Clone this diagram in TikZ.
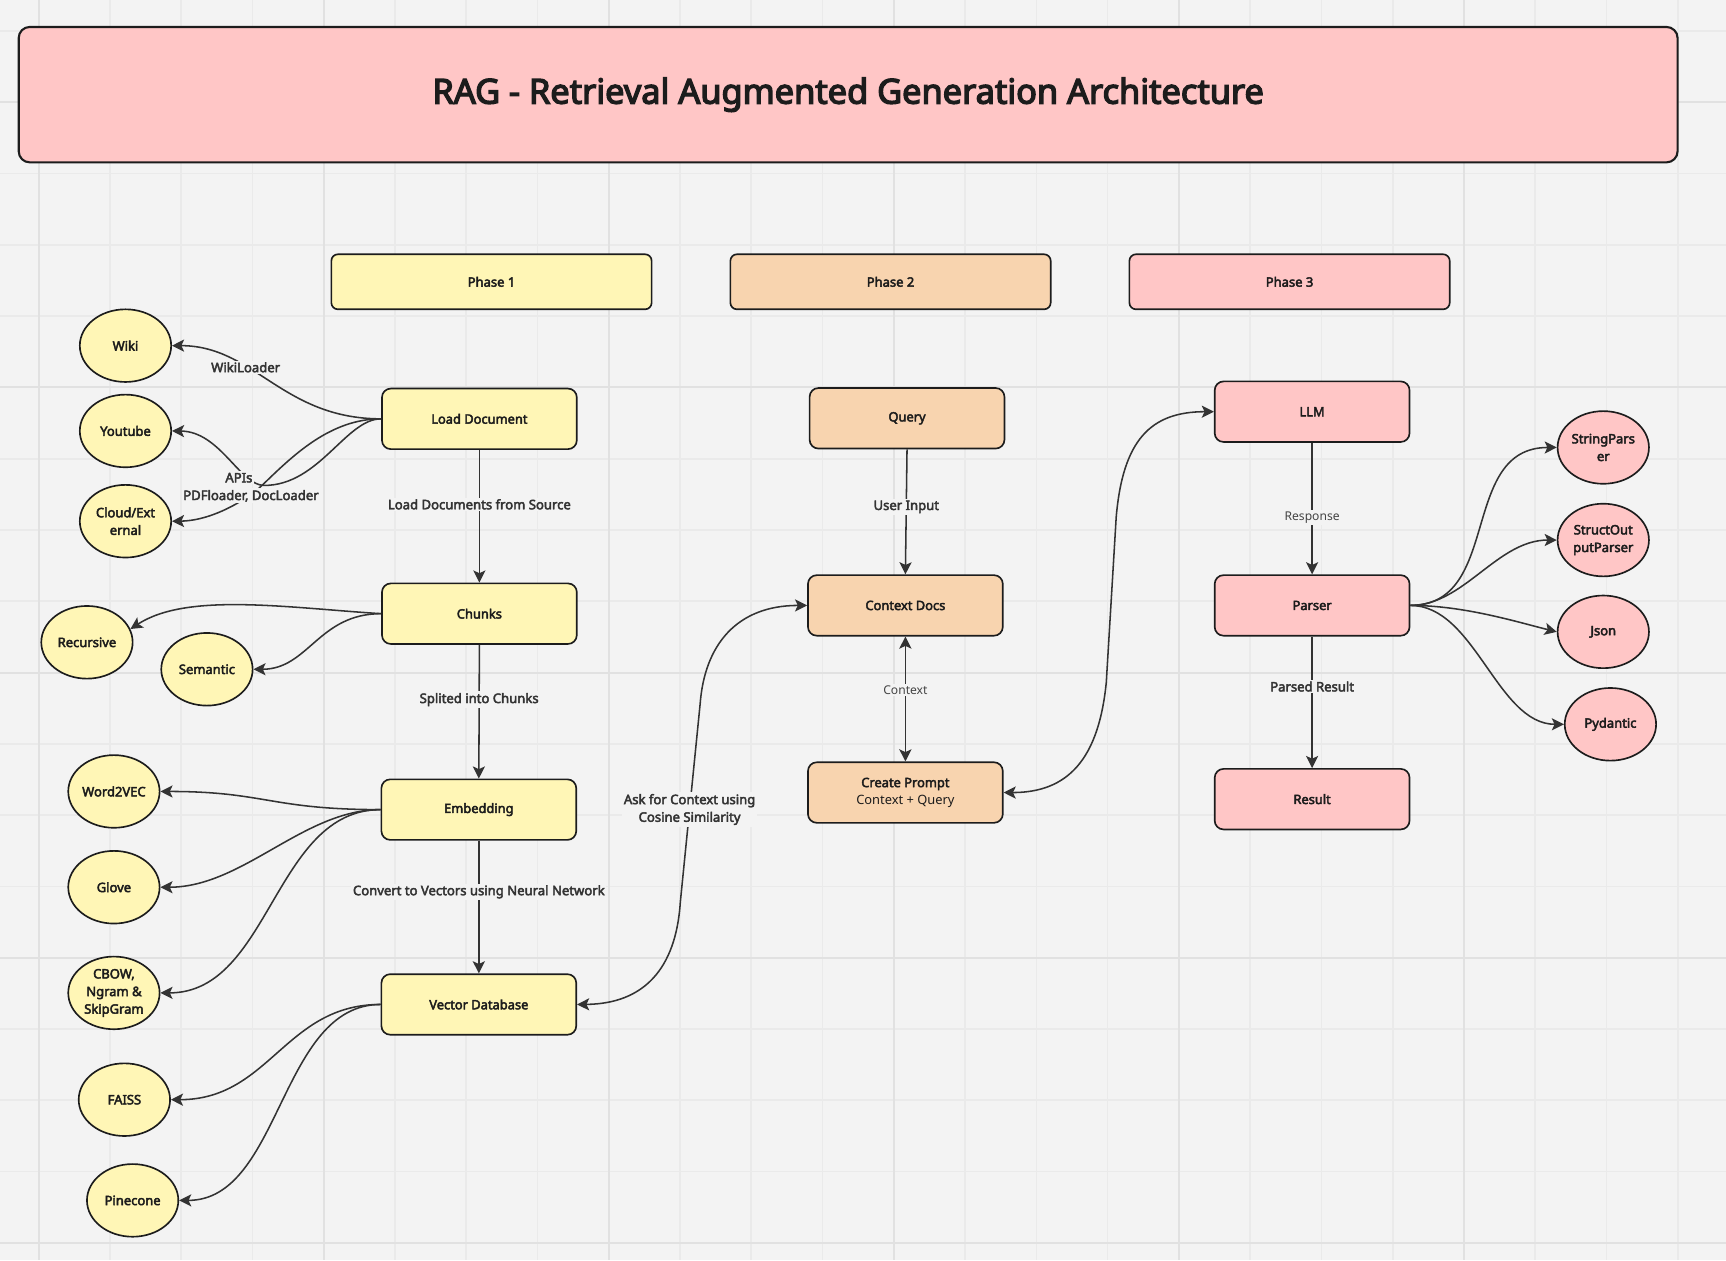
\documentclass[tikz,border=0pt]{standalone}
\usepackage{fontspec}
\setmainfont{Noto Sans}[BoldFont={Noto Sans}, BoldFeatures={FakeBold=3.3}]
\newfontfamily\titlefont{Noto Sans}[FakeBold=4]
\usetikzlibrary{shapes.geometric,arrows.meta}
\definecolor{bg}{HTML}{F3F3F3}
\definecolor{gridminor}{HTML}{EAEAEA}
\definecolor{gridmajor}{HTML}{E1E1E1}
\definecolor{yel}{HTML}{FFF6B6}
\definecolor{ora}{HTML}{F8D4AF}
\definecolor{pnk}{HTML}{FFC6C6}
\definecolor{ink}{HTML}{1C1C1C}
\definecolor{wire}{HTML}{333333}
\definecolor{lab}{HTML}{333333}
\definecolor{labl}{HTML}{444444}
\begin{document}
\begin{tikzpicture}[x=1pt,y=-1pt,
  box/.style={draw=ink, line width=1.5pt, rounded corners=8pt, minimum width=177pt, minimum height=55pt, inner sep=2pt, font=\bfseries\fontsize{11.7}{16}\selectfont, text=ink, align=center},
  phasebox/.style={draw=ink, line width=1.5pt, rounded corners=6pt, minimum width=291pt, minimum height=50pt, font=\bfseries\fontsize{11.8}{14}\selectfont, text=ink},
  oval/.style={ellipse, draw=ink, line width=1.5pt, minimum width=83pt, minimum height=66pt, inner sep=0pt, font=\bfseries\fontsize{11.8}{16}\selectfont, align=center, text=ink},
  conn/.style={draw=wire, line width=1.4pt},
  tip/.style={conn, -{Stealth[length=11pt,width=11pt,inset=2.5pt]}},
  tips/.style={conn, {Stealth[length=11pt,width=11pt,inset=2.5pt]}-{Stealth[length=11pt,width=11pt,inset=2.5pt]}},
  lbl/.style={fill=bg, inner sep=1.5pt, font=\bfseries\fontsize{11.9}{16}\selectfont, text=lab, align=center},
  lbll/.style={fill=bg, inner sep=1.5pt, font=\fontsize{11}{16}\selectfont, text=labl, align=center}
]
% background and grid
\fill[bg] (0,0) rectangle (1568,1144.7);
\useasboundingbox (0,0) rectangle (1568,1144.7);
\foreach \i in {0,...,23} \draw[gridminor, line width=1.5pt] ({35+\i*64.75},0) -- ({35+\i*64.75},1144.7);
\foreach \i in {-1,...,16} \draw[gridminor, line width=1.5pt] (0,{93+\i*64.75}) -- (1568,{93+\i*64.75});
\foreach \i in {0,4,...,20} \draw[gridmajor, line width=1.8pt] ({35+\i*64.75},0) -- ({35+\i*64.75},1144.7);
\foreach \i in {0,4,...,16} \draw[gridmajor, line width=1.8pt] (0,{93+\i*64.75}) -- (1568,{93+\i*64.75});

% title
\node[draw=ink, line width=1.9pt, rounded corners=10pt, fill=pnk, minimum width=1507pt, minimum height=123pt, font=\titlefont\fontsize{31.2}{36}\selectfont, text=ink] (title) at (770.5,86) {RAG - Retrieval Augmented Generation Architecture};

% phases
\node[phasebox, fill=yel] (p1) at (446.5,256) {Phase 1};
\node[phasebox, fill=ora] (p2) at (809,256) {Phase 2};
\node[phasebox, fill=pnk] (p3) at (1171.5,256) {Phase 3};

% phase 1 boxes
\node[box, fill=yel] (ld) at (435.5,380.5) {Load Document};
\node[box, fill=yel] (ch) at (435.5,557.5) {Chunks};
\node[box, fill=yel] (emb) at (435,735.5) {Embedding};
\node[box, fill=yel] (vdb) at (435,912.5) {Vector Database};

% phase 2 boxes
\node[box, fill=ora] (q) at (824,380) {Query};
\node[box, fill=ora] (cd) at (822.5,550) {Context Docs};
\node[box, fill=ora] (cp) at (822.5,720) {Create Prompt\\[-0.5pt]{\mdseries Context + Query}};

% phase 3 boxes
\node[box, fill=pnk] (llm) at (1192,374) {LLM};
\node[box, fill=pnk] (par) at (1192,550) {Parser};
\node[box, fill=pnk] (res) at (1192,726) {Result};

% ellipses phase 1
\node[oval, fill=yel] (wiki) at (114,314) {Wiki};
\node[oval, fill=yel] (yt) at (114,391.5) {Youtube};
\node[oval, fill=yel] (cloud) at (114,473.5) {Cloud/Ext\\ernal};
\node[oval, fill=yel] (rec) at (79,583.5) {Recursive};
\node[oval, fill=yel] (sem) at (188,608) {Semantic};
\node[oval, fill=yel] (w2v) at (103.5,719) {Word2VEC};
\node[oval, fill=yel] (glove) at (103.5,806) {Glove};
\node[oval, fill=yel] (cbow) at (103.5,902) {CBOW,\\Ngram \&\\SkipGram};
\node[oval, fill=yel] (faiss) at (113,999) {FAISS};
\node[oval, fill=yel] (pine) at (120.5,1090.5) {Pinecone};

% ellipses phase 3
\node[oval, fill=pnk] (sp) at (1456.5,406.5) {StringPars\\er};
\node[oval, fill=pnk] (sop) at (1456.5,490.6) {StructOut\\putParser};
\node[oval, fill=pnk] (json) at (1456.5,574) {Json};
\node[oval, fill=pnk] (pyd) at (1463,658) {Pydantic};

% phase 1 loaders
\draw[tip] (ld.west) .. controls +(-90,0) and +(75,0) .. node[lbl, pos=0.64] (lwiki) {WikiLoader} (wiki.east);
\draw[tip] (ld.west) .. controls +(-32,0) and (290,441) .. (240,441) .. controls (218,441) and (200,392) .. (yt.east);
\draw[tip] (ld.west) .. controls +(-47,0) and (265,415) .. (238,441) .. controls (228,451) and (195,473) .. (cloud.east);
\node[lbl] (lapi) at (217,434) {APIs};
\node[lbl] (lpdf) at (228,450.5) {PDFloader, DocLoader};

% chunks
\draw[tip] (ch.west) .. controls (260,552) and (170,538) .. (rec.17);
\draw[tip] (ch.west) .. controls +(-57,0) and +(50,0) .. (sem.east);

% embedding
\draw[tip] (emb.west) .. controls +(-100,0) and +(95,0) .. (w2v.east);
\draw[tip] (emb.west) .. controls +(-70,0) and +(75,0) .. (glove.east);
\draw[tip] (emb.west) .. controls +(-97,0) and +(100,0) .. (cbow.east);

% vector db
\draw[tip] (vdb.west) .. controls +(-87,0) and +(90,0) .. (faiss.east);
\draw[tip] (vdb.west) .. controls +(-92,0) and +(93,0) .. (pine.east);

% phase 1 chain
\draw[tip] (ld.south) -- node[lbl, pos=0.41] (l1) {Load Documents from Source} (ch.north);
\draw[tip] (ch.south) -- node[lbl, pos=0.41] (l2) {Splited into Chunks} (emb.north);
\draw[tip] (emb.south) -- node[lbl, pos=0.385] (l3) {Convert to Vectors using Neural Network} (vdb.north);

% retrieval
\draw[tips] (vdb.east) .. controls (585,912) and (614,880) .. (618,820) -- node[lbl, pos=0.47] (lask) {Ask for Context using\\Cosine Similarity} (636,640) .. controls (640,585) and (670,550) .. (cd.west);

% phase 2 chain
\draw[tip] (q.south) -- node[lbl, pos=0.46] (lui) {User Input} (cd.north);
\draw[tips] (cd.south) -- node[lbll, pos=0.43] (lctx) {Context} (cp.north);

% prompt to llm
\draw[tips] (cp.east) .. controls (970,720) and (998,690) .. (1005,620) -- (1014,470) .. controls (1020,400) and (1045,374) .. (llm.west);

% phase 3 chain
\draw[tip] (llm.south) -- node[lbll, pos=0.57] (lresp) {Response} (par.north);
\draw[tip] (par.south) -- node[lbl, pos=0.38] (lpr) {Parsed Result} (res.north);

% parsers
\draw[tip] (par.east) .. controls (1365,550) and (1325,406.5) .. (sp.west);
\draw[tip] (par.east) .. controls (1330,550) and (1360,490.6) .. (sop.west);
\draw[tip] (par.east) .. controls (1330,550) and (1378,565) .. (json.west);
\draw[tip] (par.east) .. controls (1340,550) and (1360,658) .. (pyd.west);
\end{tikzpicture}
\end{document}
